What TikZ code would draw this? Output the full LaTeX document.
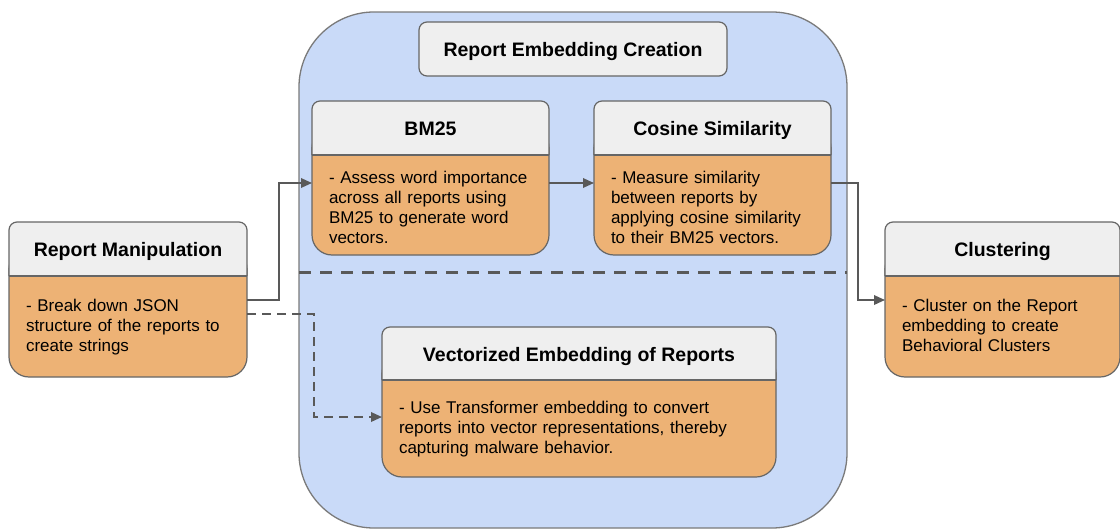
\documentclass[tikz,border=0pt]{standalone}
\usepackage{fontspec}
\setmainfont{Liberation Sans}
\usetikzlibrary{arrows.meta, positioning, backgrounds}
\definecolor{panelblue}{HTML}{C9DAF8}
\definecolor{panelrim}{HTML}{7A7A7A}
\definecolor{headgray}{HTML}{EFEFEF}
\definecolor{bodyorange}{HTML}{EDB275}
\definecolor{rimgray}{HTML}{666666}
\definecolor{wire}{HTML}{595959}
\tikzset{
  hd/.style={
    minimum height=54pt, inner sep=0pt, outer sep=0pt,
    text height=15.5pt, text depth=0pt,
    font=\fontsize{19.5}{23}\selectfont\bfseries
  },
  txt/.style={
    minimum height=101pt, inner xsep=17pt, inner ysep=0pt,
    outer sep=0pt, align=left,
    font=\fontsize{17}{20.3}\selectfont,
    execute at begin node={\rule{0pt}{14pt}},
    execute at end node={\rule[-4pt]{0pt}{4pt}}
  },
  txtlow/.style={txt,
    execute at begin node={\rule{0pt}{21pt}},
    execute at end node={\rule[-1.5pt]{0pt}{1.5pt}}
  },
  ttl/.style={hd, draw=rimgray, line width=1.2pt, fill=headgray,
    rounded corners=8pt},
  panel/.style={draw=panelrim, line width=1.3pt, fill=panelblue,
    rounded corners=75pt, inner sep=0pt, outer sep=0pt},
  bodyshape/.style={draw=rimgray, line width=1.2pt, fill=bodyorange,
    rounded corners=20pt},
  headshape/.style={fill=headgray},
  edge/.style={draw=rimgray, line width=1.2pt},
  sig/.style={-{Triangle[length=11pt,width=9.5pt]}, line width=1.8pt, wire},
  miss/.style={sig, dash pattern=on 9pt off 6pt},
  split/.style={line width=3pt, wire, dash pattern=on 12pt off 9pt}
}
% card = header node #1 above text node #2
\newcommand{\cardbg}[2]{%
  \filldraw[bodyshape] (#1.west) rectangle (#2.south east);
  \fill[headshape, rounded corners=8pt] (#1.north west) rectangle (#1.south east);
  \fill[headshape] (#1.west) rectangle (#1.south east);
  \draw[edge, rounded corners=8pt] (#1.south west) |- (#1.north) -| (#1.south east);
  \draw[edge] (#1.south west) -- (#1.south east);
}

\begin{document}
\begin{tikzpicture}[x=1pt, y=-1pt]
  \useasboundingbox (0,0) rectangle (1120,530);

  \begin{scope}[on background layer]
    \node[panel, minimum width=548pt, minimum height=516pt] (emb) at (573,270) {};
  \end{scope}

  \node[ttl, minimum width=308pt] (title) at (573,49) {Report Embedding Creation};

  \node[hd, minimum width=238pt] (rm) at (128,249) {Report Manipulation};
  \node[txt, text width=204pt, below=0pt of rm] (rm-t)
    {- Break down JSON\\structure of the reports to\\create strings};

  \node[hd, minimum width=237pt] (bm) at (430.5,128) {BM25};
  \node[txtlow, text width=203pt, minimum height=100pt, below=0pt of bm] (bm-t)
    {- Assess word importance\\across all reports using\\BM25 to generate word\\vectors.};

  \node[hd, minimum width=237pt] (cs) at (712.5,128) {Cosine Similarity};
  \node[txtlow, text width=203pt, minimum height=100pt, below=0pt of cs] (cs-t)
    {- Measure similarity\\between reports by\\applying cosine similarity\\to their BM25 vectors.};

  \node[hd, minimum width=394pt, minimum height=53pt] (ve) at (579,353.5) {Vectorized Embedding of Reports};
  \node[txt, text width=360pt, minimum height=97pt, below=0pt of ve] (ve-t)
    {- Use Transformer embedding to convert\\reports into vector representations, thereby\\capturing malware behavior.};

  \node[hd, minimum width=235pt] (cl) at (1002.5,249) {Clustering};
  \node[txt, text width=201pt, below=0pt of cl] (cl-t)
    {- Cluster on the Report\\embedding to create\\Behavioral Clusters};

  \begin{scope}[on background layer]
    \cardbg{rm}{rm-t}
    \cardbg{bm}{bm-t}
    \cardbg{cs}{cs-t}
    \cardbg{ve}{ve-t}
    \cardbg{cl}{cl-t}
  \end{scope}

  \draw[split] ([yshift=-2pt]emb.west) -- ([yshift=-2pt]emb.east);

  \draw[sig] ([yshift=-24pt]rm.south east) -- ++(32,0) |- ([yshift=-28pt]bm.south west);
  \draw[sig] ([yshift=-28pt]bm.south east) -- ([yshift=-28pt]cs.south west);
  \draw[sig] ([yshift=-28pt]cs.south east) -- ++(27,0) |- ([yshift=-24pt]cl.south west);
  \draw[miss] ([yshift=-38pt]rm.south east) -- ++(67,0) |- ([yshift=-37pt]ve.south west);

\end{tikzpicture}
\end{document}
